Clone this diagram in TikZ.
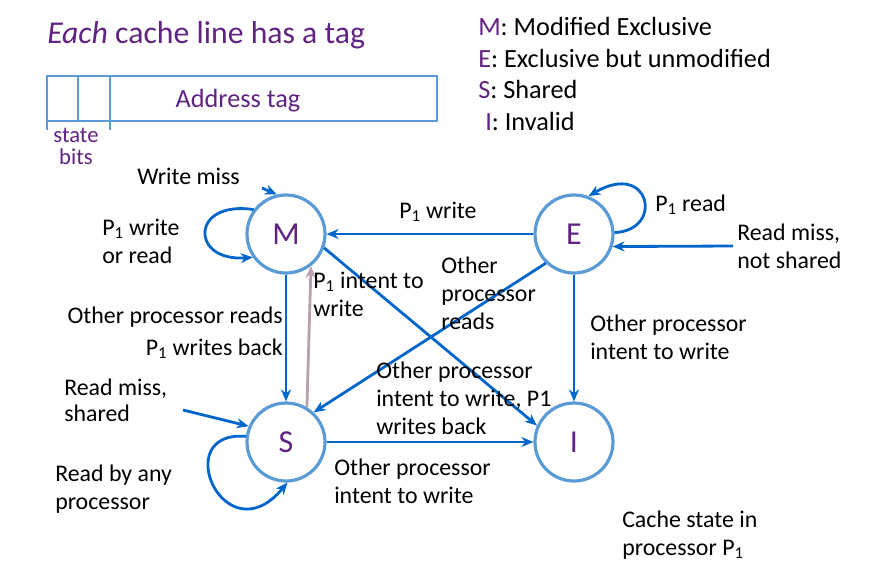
\documentclass[tikz,border=0pt]{standalone}
\usepackage{fontspec}
\setmainfont{Carlito}
\usetikzlibrary{arrows.meta}
\definecolor{arrowblue}{RGB}{0,102,204}
\definecolor{ringblue}{RGB}{91,155,213}
\definecolor{darkpurple}{RGB}{96,35,130}
\definecolor{mauve}{RGB}{185,160,175}
\newcommand\Pone{P\textsubscript{1}}
\begin{document}
\begin{tikzpicture}[x=0.75pt,y=-0.75pt,
  statenode/.style={circle,draw=ringblue,line width=2.4pt,minimum size=58.5pt,inner sep=0pt,
    font=\fontsize{24}{28}\selectfont,text=darkpurple},
  conn/.style={draw=arrowblue,line width=2.1pt,-{Stealth[length=9pt,width=7.5pt]}},
  lbl/.style={font=\fontsize{17.9}{21}\selectfont,align=left,inner sep=0pt,anchor=base west},
  lblr/.style={lbl,anchor=base east,align=right},
  legend/.style={font=\fontsize{19.7}{24}\selectfont,align=left,inner sep=0pt,anchor=base west}]
\useasboundingbox (0,0) rectangle (870,569);

% title and legend
\node[legend,font=\fontsize{23.8}{28}\selectfont,text=darkpurple] (title) at (47,43) {\textit{Each} cache line has a tag};
\node[legend] (legM) at (478,35) {\textcolor{darkpurple}{M}: Modified Exclusive};
\node[legend] (legE) at (478,67) {\textcolor{darkpurple}{E}: Exclusive but unmodified};
\node[legend] (legS) at (478,98) {\textcolor{darkpurple}{S}: Shared};
\node[legend] (legI) at (485,130) {\textcolor{darkpurple}{I}: Invalid};

% tag box
\draw[ringblue,line width=2pt] (47,76) rectangle (437,121);
\draw[ringblue,line width=2pt] (78,76) -- (78,121);
\draw[ringblue,line width=2pt] (110,76) -- (110,130);
\draw[ringblue,line width=2pt] (47,121) -- (47,130);
\node[legend,anchor=base,text=darkpurple] (addr) at (238,107) {Address tag};
\node[lbl,anchor=base,align=center,text=darkpurple,font=\fontsize{17}{16}\selectfont] (sbits) at (76,164) {state\\bits};

% states
\node[statenode] (M) at (286,234) {M};
\node[statenode] (E) at (574,234) {E};
\node[statenode] (S) at (286,442) {S};
\node[statenode] (I) at (574,442) {I};

% free ends
\coordinate (wm) at (262,188);
\coordinate (rms) at (183,410);
\coordinate (rmn) at (733,246);

% connectors
\draw[conn] (wm) -- (M.103);
\draw[conn] (M.143) .. controls (190,200) and (190,262) .. (M.215);
\draw[conn] (E.west) -- (M.east);
\draw[conn] (E.2) .. controls (665,230) and (650,160) .. (E.69);
\draw[conn] (rmn) -- (E.-18);
\draw[conn] (M.south) -- (S.north);
\draw[conn,draw=mauve] (S.59) -- (M.-52);
\draw[conn] (M.-20) -- (I.156);
\draw[conn] (E.-134) -- (S.47);
\draw[conn] (E.south) -- (I.north);
\draw[conn] (S.east) -- (I.west);
\draw[conn] (rms) -- (S.157);
\draw[conn] (S.172) .. controls (168,430) and (225,558) .. (S.-88);

% labels (multi-line nodes: anchor on last line's baseline)
\node[lbl] (lwm) at (137,184) {Write miss};
\node[lbl] (lmloop) at (102,263) {\Pone{} write\\or read};
\node[lbl] (lem) at (399,218) {\Pone{} write};
\node[lbl] (leloop) at (655,211) {\Pone{} read};
\node[lbl] (lrmn) at (737,268) {Read miss,\\not shared};
\node[lblr] (lms1) at (283,323) {Other processor reads};
\node[lblr] (lms2) at (283,355) {\Pone{} writes back};
\node[lbl] (lsm) at (313,316) {\Pone{} intent to\\write};
\node[lbl] (les) at (441,329) {Other\\processor\\reads};
\node[lbl] (lmi) at (376,434) {Other processor\\intent to write, P1\\writes back};
\node[lbl,font=\fontsize{17.9}{19.5}\selectfont] (lrms) at (64,421) {Read miss,\\shared};
\node[lbl,font=\fontsize{17.9}{20.5}\selectfont] (lsloop) at (55,509) {Read by any\\processor};
\node[lbl] (lsi) at (334,503) {Other processor\\intent to write};
\node[lbl] (lei) at (590,359) {Other processor\\intent to write};
\node[lbl] (lcache) at (622,555) {Cache state in\\processor \Pone};
\end{tikzpicture}
\end{document}
